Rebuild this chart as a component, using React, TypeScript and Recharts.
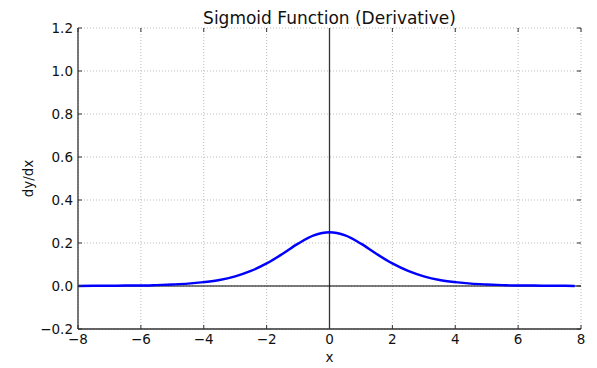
import {
  LineChart,
  Line,
  XAxis,
  YAxis,
  CartesianGrid,
  ReferenceLine,
} from "recharts";

const xValues = [
  -8, -7.5, -7, -6.5, -6, -5.5, -5, -4.5, -4, -3.5, -3, -2.5, -2, -1.5, -1, -0.5,
  0, 0.5, 1, 1.5, 2, 2.5, 3, 3.5, 4, 4.5, 5, 5.5, 6, 6.5, 7, 7.5, 7.8,
];
const dydx = [
  0.0, 0.001, 0.001, 0.002, 0.002, 0.004, 0.007, 0.011, 0.018, 0.028, 0.045,
  0.07, 0.105, 0.149, 0.197, 0.235, 0.25, 0.235, 0.197, 0.149, 0.105, 0.07,
  0.045, 0.028, 0.018, 0.011, 0.007, 0.004, 0.002, 0.002, 0.001, 0.001, 0.0,
];
const xTicks = [-8, -6, -4, -2, 0, 2, 4, 6, 8];
const yTicks = [-0.2, 0, 0.2, 0.4, 0.6, 0.8, 1.0, 1.2];

const W = 597;
const H = 368;
const TOP = 28;
const LEFT = 78;
const RIGHT = 581;
const BOTTOM = 329;
const FONT = "'DejaVu Sans', sans-serif";
const FRAME = "#333";

const data = xValues.map((x, i) => ({ x, y: dydx[i] }));

const minus = (s: string) => s.replace("-", "\u2212");

function XTick({ x, payload }: any) {
  return (
    <g>
      <line x1={x} x2={x} y1={BOTTOM} y2={BOTTOM - 4} stroke={FRAME} />
      <line x1={x} x2={x} y1={TOP} y2={TOP + 4} stroke={FRAME} />
      <text x={x} y={BOTTOM + 15} textAnchor="middle" fontSize={13.5} fontFamily={FONT} fill="#111">
        {minus(String(payload.value))}
      </text>
    </g>
  );
}

function YTick({ y, payload }: any) {
  return (
    <g>
      <line x1={LEFT} x2={LEFT + 4} y1={y} y2={y} stroke={FRAME} />
      <line x1={RIGHT} x2={RIGHT - 4} y1={y} y2={y} stroke={FRAME} />
      <text x={LEFT - 5} y={y + 5} textAnchor="end" fontSize={13.5} fontFamily={FONT} fill="#111">
        {minus(Number(payload.value).toFixed(1))}
      </text>
    </g>
  );
}

export default function App() {
  return (
    <div style={{ position: "absolute", left: 0, top: 0, width: W, height: H, background: "#fff" }}>
      <LineChart
        width={W}
        height={H}
        data={data}
        margin={{ top: TOP, right: W - RIGHT, bottom: 0, left: 0 }}
      >
        <CartesianGrid stroke="#aaa" strokeDasharray="1 2" strokeWidth={0.8} />
        <XAxis
          dataKey="x"
          type="number"
          domain={[-8, 8]}
          ticks={xTicks}
          height={H - BOTTOM}
          tick={<XTick />}
          tickLine={false}
          axisLine={{ stroke: FRAME, strokeWidth: 1.3 }}
          allowDataOverflow
        />
        <YAxis
          type="number"
          domain={[-0.2, 1.2]}
          ticks={yTicks}
          width={LEFT}
          tick={<YTick />}
          tickLine={false}
          axisLine={{ stroke: FRAME, strokeWidth: 1.3 }}
          allowDataOverflow
        />
        <XAxis xAxisId="top" orientation="top" type="number" domain={[-8, 8]} height={0} tick={false} tickLine={false} axisLine={{ stroke: FRAME, strokeWidth: 1.3 }} />
        <YAxis yAxisId="right" orientation="right" type="number" domain={[-0.2, 1.2]} width={0} tick={false} tickLine={false} axisLine={{ stroke: FRAME, strokeWidth: 1.3 }} />
        <ReferenceLine x={0} stroke={FRAME} strokeWidth={1.3} />
        <ReferenceLine y={0} stroke="#000" strokeWidth={1.2} />
        <Line
          dataKey="y"
          type="monotone"
          stroke="#0000ff"
          strokeWidth={2.4}
          dot={false}
          isAnimationActive={false}
        />
      </LineChart>
      <svg width={W} height={H} style={{ position: "absolute", left: 0, top: 0, pointerEvents: "none" }}>
        <text x={(LEFT + RIGHT) / 2} y={24} textAnchor="middle" fontSize={17} fontFamily={FONT} fill="#111">
          Sigmoid Function (Derivative)
        </text>
        <text x={(LEFT + RIGHT) / 2} y={362} textAnchor="middle" fontSize={13.5} fontFamily={FONT} fill="#111">
          x
        </text>
        <text
          x={33}
          y={(TOP + BOTTOM) / 2}
          textAnchor="middle"
          fontSize={13.5}
          fontFamily={FONT}
          fill="#111"
          transform={`rotate(-90 33 ${(TOP + BOTTOM) / 2})`}
        >
          dy/dx
        </text>
      </svg>
    </div>
  );
}
